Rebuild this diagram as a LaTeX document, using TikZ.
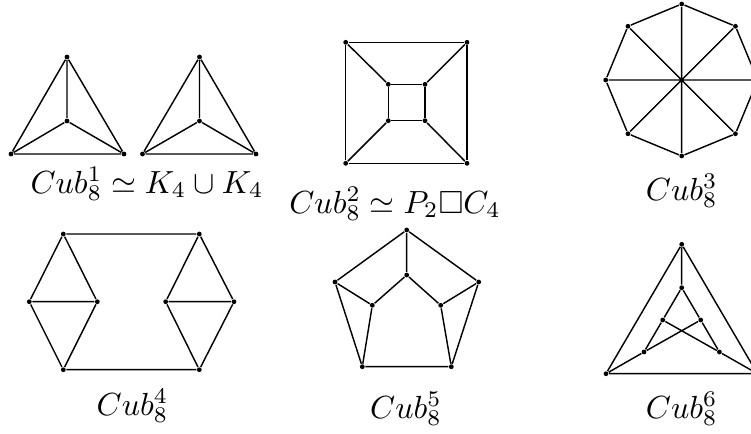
\documentclass[tikz,border=0pt]{standalone}
\usepackage{amssymb}
\begin{document}
\begin{tikzpicture}[x=0.3125pt,y=-0.3125pt,
  v/.style={circle,fill=black,inner sep=0pt,minimum size=1.5pt},
  e/.style={line width=0.45pt,black},
  lbl/.style={anchor=base,inner sep=0pt}]
\useasboundingbox (0,0) rectangle (751,433);
\clip (0,0) rectangle (751,433);
% Graph 1: K4 u K4
\node[v] (a1) at (67,57) {};
\node[v] (a2) at (67,121) {};
\node[v] (a3) at (11,154) {};
\node[v] (a4) at (124,154) {};
\node[v] (b1) at (199.5,57) {};
\node[v] (b2) at (199.5,121) {};
\node[v] (b3) at (142.5,154) {};
\node[v] (b4) at (256,154) {};
\draw[e] (a1)--(a2) (a1)--(a3) (a1)--(a4) (a2)--(a3) (a2)--(a4) (a3)--(a4);
\draw[e] (b1)--(b2) (b1)--(b3) (b1)--(b4) (b2)--(b3) (b2)--(b4) (b3)--(b4);
% Graph 2: cube
\node[v] (c1) at (345.7,42.3) {};
\node[v] (c2) at (467,42.3) {};
\node[v] (c3) at (467,163.3) {};
\node[v] (c4) at (345.7,163.3) {};
\node[v] (d1) at (388.3,84.3) {};
\node[v] (d2) at (425,84.3) {};
\node[v] (d3) at (425,120.7) {};
\node[v] (d4) at (388.3,120.7) {};
\draw[e] (c1)--(c2)--(c3)--(c4)--(c1);
\draw[e] (d1)--(d2)--(d3)--(d4)--(d1);
\draw[e] (c1)--(d1) (c2)--(d2) (c3)--(d3) (c4)--(d4);
% Graph 3: Wagner graph
\foreach \k in {0,...,7}{
  \node[v] (g\k) at ({681.7+76*cos(90+45*\k)},{80-76*sin(90+45*\k)}) {};
}
\draw[e] (g0)--(g1)--(g2)--(g3)--(g4)--(g5)--(g6)--(g7)--(g0);
\draw[e] (g0)--(g4) (g1)--(g5) (g2)--(g6) (g3)--(g7);
% Graph 4
\node[v] (h1) at (63.3,234) {};
\node[v] (h2) at (199.3,234) {};
\node[v] (h3) at (29.3,301.7) {};
\node[v] (h4) at (97.3,301.7) {};
\node[v] (h5) at (165.7,301.7) {};
\node[v] (h6) at (234,301.7) {};
\node[v] (h7) at (63.3,369.7) {};
\node[v] (h8) at (199.3,369.7) {};
\draw[e] (h1)--(h2) (h1)--(h3) (h1)--(h4) (h3)--(h4) (h3)--(h7) (h4)--(h7);
\draw[e] (h2)--(h5) (h2)--(h6) (h5)--(h6) (h5)--(h8) (h6)--(h8) (h7)--(h8);
% Graph 5
\node[v] (p1) at (406.7,230) {};
\node[v] (p2) at (406.7,275) {};
\node[v] (p3) at (335,282) {};
\node[v] (p4) at (478.7,282) {};
\node[v] (p5) at (372.3,305.3) {};
\node[v] (p6) at (440.7,305.3) {};
\node[v] (p7) at (362.3,366.7) {};
\node[v] (p8) at (451.3,366.7) {};
\draw[e] (p1)--(p3) (p1)--(p4) (p1)--(p2) (p2)--(p5) (p2)--(p6) (p3)--(p5) (p4)--(p6);
\draw[e] (p3)--(p7) (p4)--(p8) (p5)--(p7) (p6)--(p8) (p7)--(p8);
% Graph 6
\node[v] (q1) at (681.7,244.3) {};
\node[v] (q2) at (681.7,287.7) {};
\node[v] (q3) at (662.7,320) {};
\node[v] (q4) at (700.7,320) {};
\node[v] (q5) at (644,352) {};
\node[v] (q6) at (719.4,352) {};
\node[v] (q7) at (606,373.7) {};
\node[v] (q8) at (757.4,373.7) {};
\draw[e] (q1)--(q7) (q1)--(q8) (q1)--(q2) (q2)--(q3) (q2)--(q4) (q3)--(q6) (q4)--(q5);
\draw[e] (q3)--(q5) (q4)--(q6) (q5)--(q7) (q6)--(q8) (q7)--(q8);
% Labels
\node[lbl] (l1) at (147,193) {$Cub_8^1\simeq K_4\cup K_4$};
\node[lbl] (l2) at (395,213) {$Cub_8^2\simeq P_2\square C_4$};
\node[lbl] (l3) at (681.7,200) {$Cub_8^3$};
\node[lbl] (l4) at (132.5,415) {$Cub_8^4$};
\node[lbl] (l5) at (406,418) {$Cub_8^5$};
\node[lbl] (l6) at (681.7,418) {$Cub_8^6$};
\end{tikzpicture}
\end{document}
